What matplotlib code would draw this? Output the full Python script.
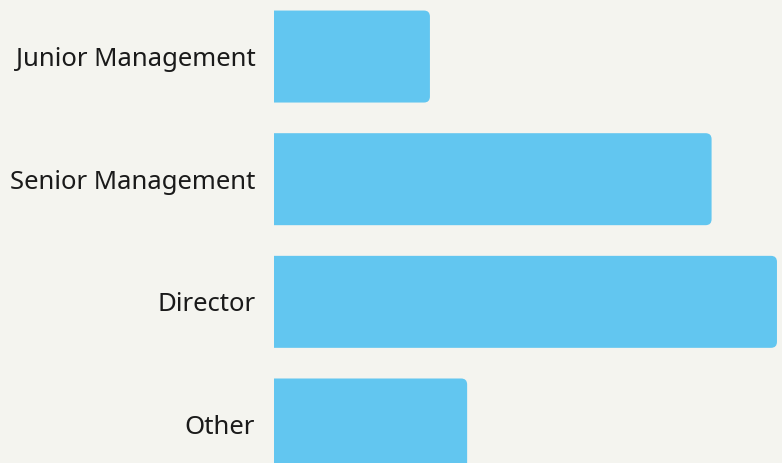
import matplotlib.pyplot as plt
from matplotlib.patches import FancyBboxPatch

roles = ['Junior Management', 'Senior Management', 'Director', 'Other']
values = [31, 87, 100, 38.4]

bg = '#F4F4EF'
bar_color = '#62C6F0'

plt.rcParams['font.family'] = ['Noto Sans', 'DejaVu Sans']

fig = plt.figure(figsize=(7.82, 4.63), dpi=100, facecolor=bg)
ax = fig.add_axes([274 / 782, 0, 508 / 782, 1])
ax.set_facecolor(bg)

bars = ax.barh(range(len(roles)), values, height=0.75, color=bar_color)
ax.set_xlim(0, 101)
ax.set_ylim(3.314, -0.461)

# swap plain bars for ones with rounded right corners
w_px = 508 / 101
h_px = 122.5
r = 6 / w_px
for b in bars:
    x, y = b.get_x(), b.get_y()
    w, h = b.get_width(), b.get_height()
    b.set_visible(False)
    p = FancyBboxPatch((x - 3 * r, y), w + 3 * r, h,
                       boxstyle=f'round,pad=0,rounding_size={r}',
                       mutation_aspect=w_px / h_px,
                       facecolor=bar_color, edgecolor='none')
    ax.add_patch(p)

ax.set_yticks(range(len(roles)))
ax.set_yticklabels(roles, fontsize=18.5, color='#1a1a1a')
ax.tick_params(axis='y', length=0, pad=13.5)
ax.set_xticks([])
for s in ax.spines.values():
    s.set_visible(False)

fig.savefig('out.png', dpi=100, facecolor=bg)
